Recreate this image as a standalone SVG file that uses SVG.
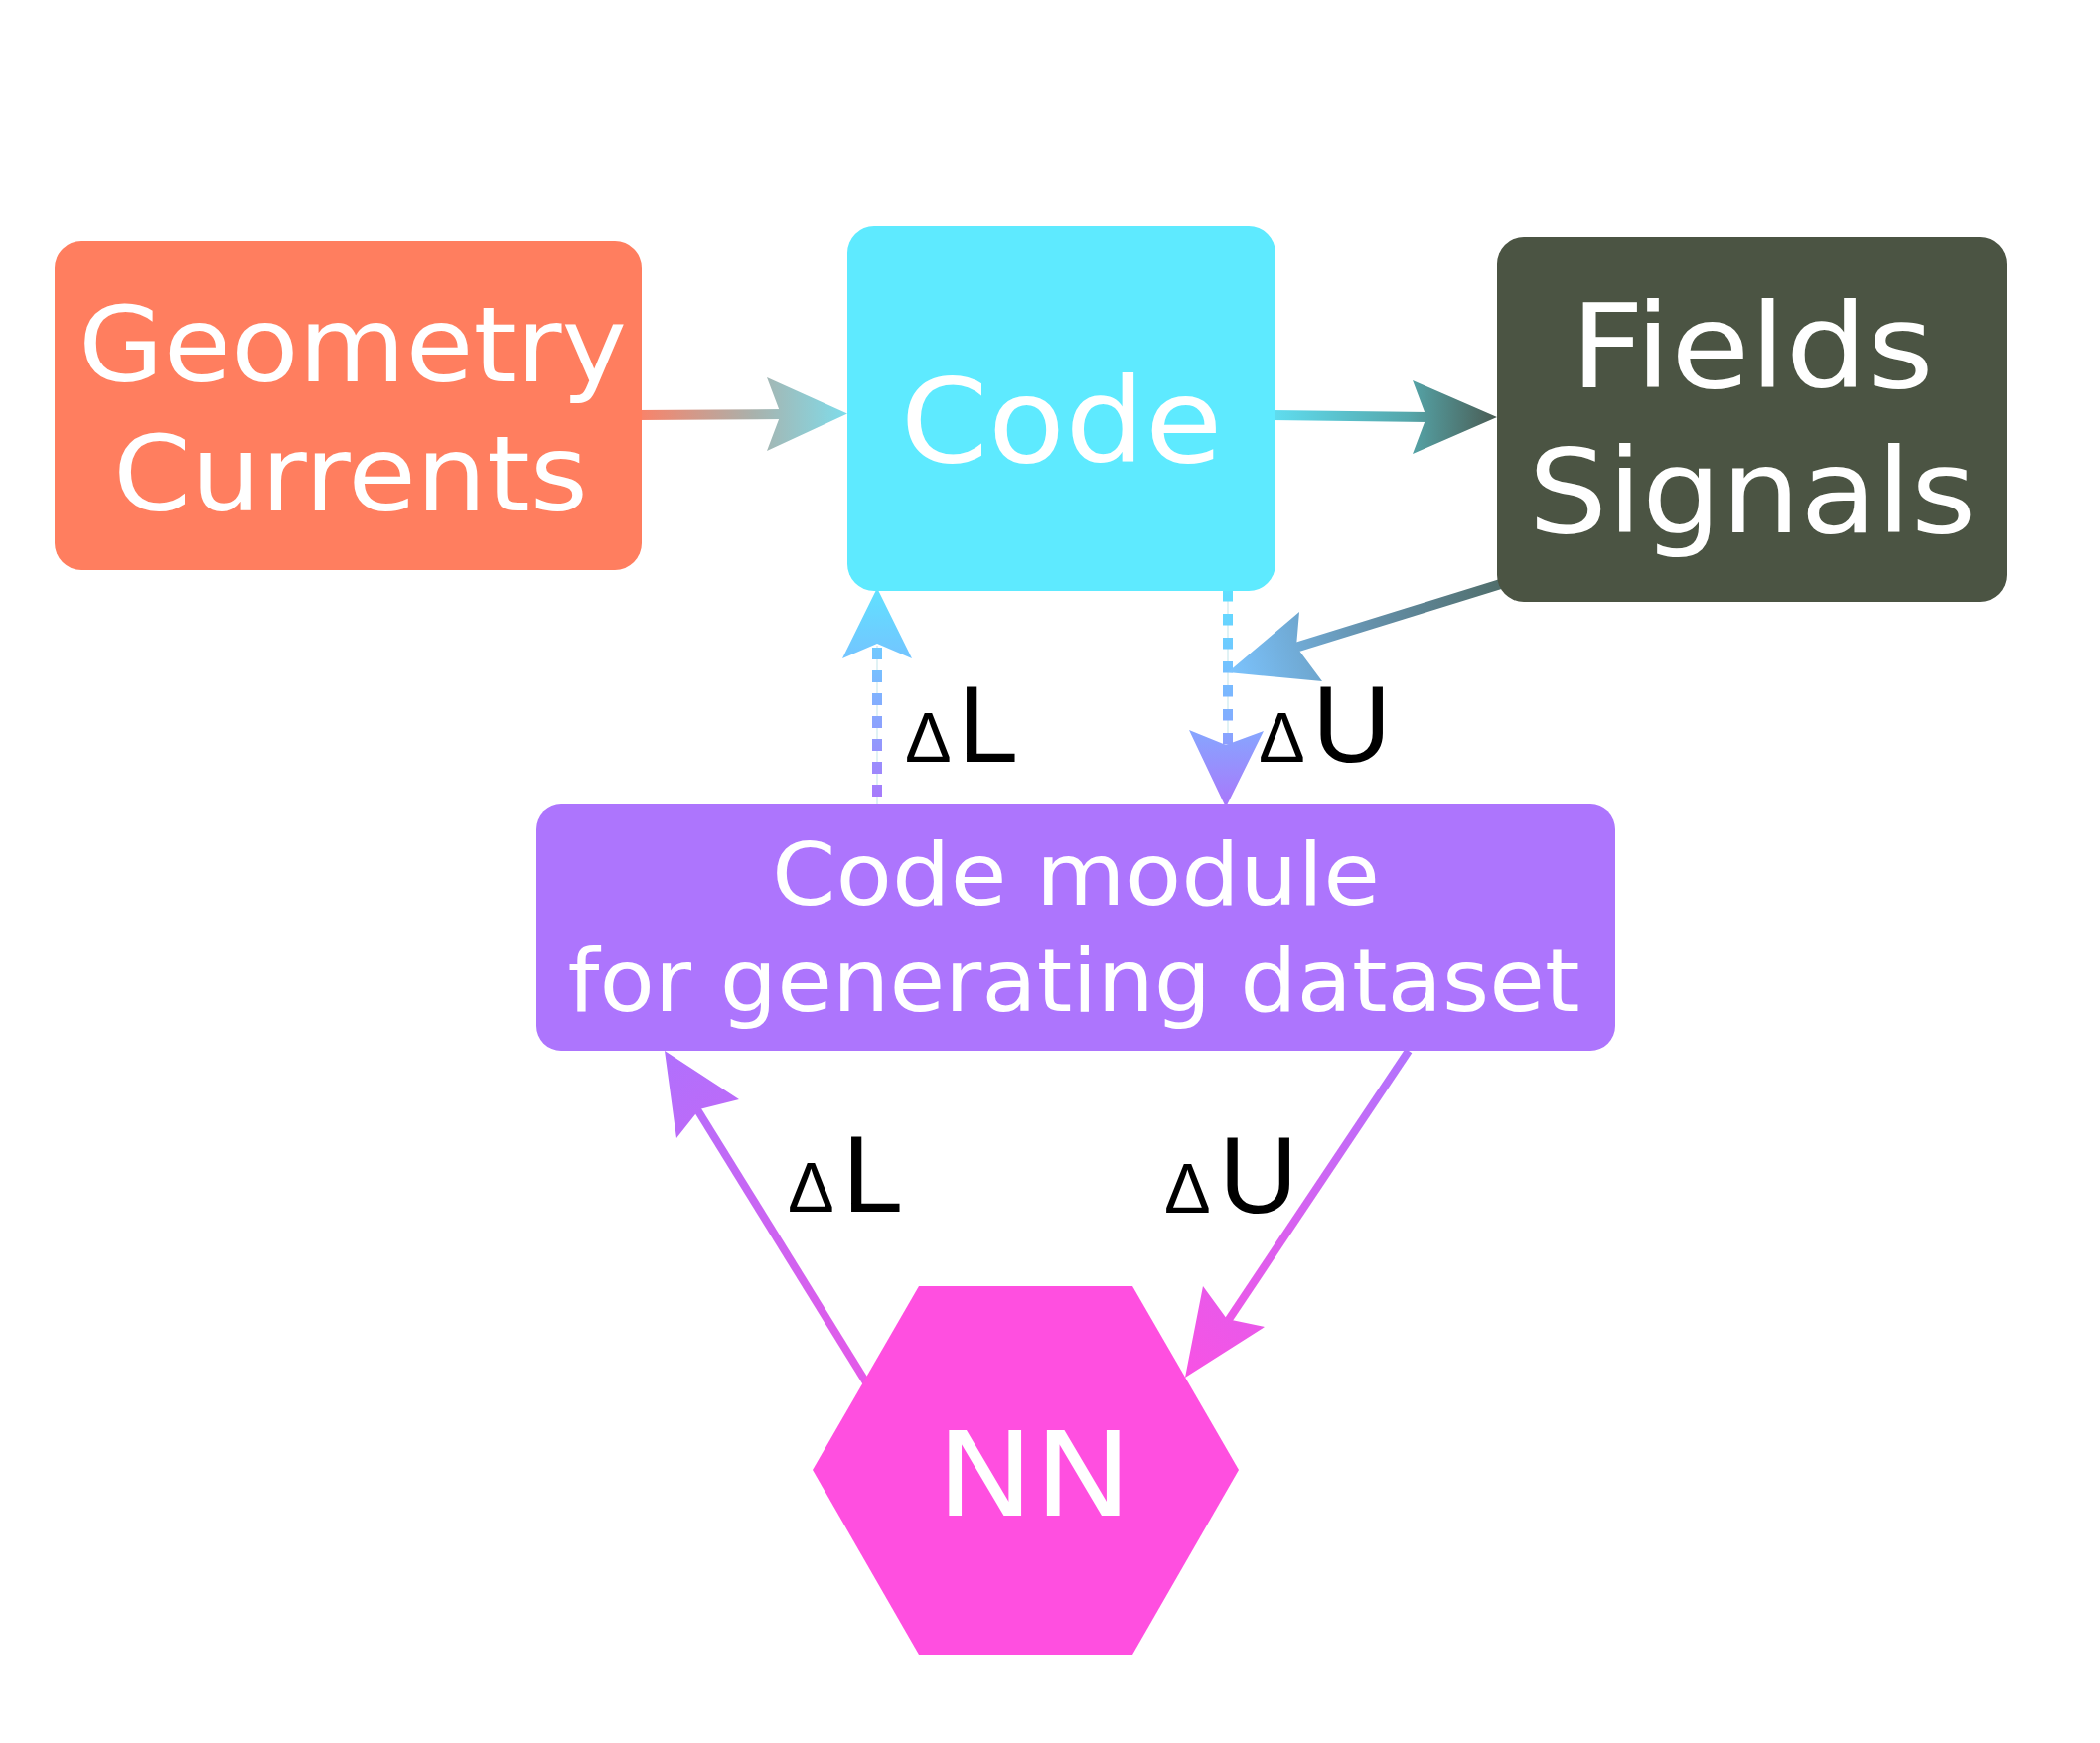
<svg xmlns="http://www.w3.org/2000/svg" width="2114" height="1755" viewBox="0 0 2114 1755">
<style>
.node-text{font-family:"DejaVu Sans",sans-serif;fill:#ffffff;text-anchor:middle}
.lbl{font-family:"Liberation Sans",Arial,sans-serif;fill:#000000}
.dash{fill:none;stroke-width:10}
.thin{fill:none;stroke:#d6eef2;stroke-width:1.5}
</style>
<defs>
<linearGradient id="g1" gradientUnits="userSpaceOnUse" x1="646" y1="417" x2="853" y2="417">
<stop offset="0" stop-color="#f8836a"/><stop offset="0.55" stop-color="#a8b2ad"/><stop offset="1" stop-color="#7fdcea"/>
</linearGradient>
<linearGradient id="g2" gradientUnits="userSpaceOnUse" x1="1284" y1="418" x2="1507" y2="420">
<stop offset="0" stop-color="#5fdcee"/><stop offset="0.6" stop-color="#55a6aa"/><stop offset="1" stop-color="#4a5c54"/>
</linearGradient>
<linearGradient id="g3" gradientUnits="userSpaceOnUse" x1="1525" y1="584" x2="1236" y2="677">
<stop offset="0" stop-color="#4e6a64"/><stop offset="0.5" stop-color="#6490aa"/><stop offset="1" stop-color="#7cc4ff"/>
</linearGradient>
<linearGradient id="g4" gradientUnits="userSpaceOnUse" x1="1236" y1="595" x2="1236" y2="813">
<stop offset="0" stop-color="#5fe0ff"/><stop offset="0.6" stop-color="#82acff"/><stop offset="1" stop-color="#aa76fb"/>
</linearGradient>
<linearGradient id="g5" gradientUnits="userSpaceOnUse" x1="883" y1="810" x2="883" y2="590">
<stop offset="0" stop-color="#aa76fb"/><stop offset="0.6" stop-color="#78beff"/><stop offset="1" stop-color="#5fe2ff"/>
</linearGradient>
<linearGradient id="g6" gradientUnits="userSpaceOnUse" x1="872" y1="1392" x2="669" y2="1058">
<stop offset="0" stop-color="#e45ae8"/><stop offset="1" stop-color="#b070fd"/>
</linearGradient>
<linearGradient id="g7" gradientUnits="userSpaceOnUse" x1="1418" y1="1058" x2="1193" y2="1387">
<stop offset="0" stop-color="#b273fd"/><stop offset="1" stop-color="#f852e4"/>
</linearGradient>
</defs>
<rect width="2114" height="1755" fill="#ffffff"/>

<g id="connectors">
  <!-- Geometry -> Code -->
  <path d="M640 418 L788 417" stroke="url(#g1)" stroke-width="10" fill="none"/>
  <polygon points="853,416.5 772,380 786,417 772,454" fill="url(#g1)"/>
  <!-- Code -> Fields -->
  <path d="M1280 418 L1438 420" stroke="url(#g2)" stroke-width="10" fill="none"/>
  <polygon points="1507,420 1422,383 1436,420 1422,457" fill="url(#g2)"/>
  <!-- Code module -> Code (dL, dashed up) -->
  <path class="thin" d="M883 810 L883 650"/>
  <path class="dash" d="M883 802 L883 650" stroke="url(#g5)" stroke-dasharray="12 11"/>
  <polygon points="883,592 918,663 883,648 848,663" fill="url(#g5)"/>
  <!-- Code -> Code module (dU, dashed down) -->
  <path class="thin" d="M1236 595 L1236 752"/>
  <path class="dash" d="M1236 594 L1236 750" stroke="url(#g4)" stroke-dasharray="11.5 12.5"/>
  <polygon points="1234,813 1197,735 1234,750 1272,736" fill="url(#g4)"/>
  <!-- Fields -> dU line -->
  <path d="M1530 582 L1304 652" stroke="url(#g3)" stroke-width="10" fill="none"/>
  <polygon points="1236,677 1308,616 1305,651 1331,686" fill="url(#g3)"/>
  <!-- NN -> Code module (dL) -->
  <path d="M872 1392 L700 1114" stroke="url(#g6)" stroke-width="8" fill="none"/>
  <polygon points="669,1058 744,1107 704,1117 681,1146" fill="url(#g6)"/>
  <!-- Code module -> NN (dU) -->
  <path d="M1418 1058 L1236 1330" stroke="url(#g7)" stroke-width="8" fill="none"/>
  <polygon points="1193,1387 1211,1295 1235,1328 1273,1336" fill="url(#g7)"/>
</g>

<g id="node-geometry">
  <rect x="55" y="243" width="591" height="331" rx="27" ry="27" fill="#ff7e5f"/>
  <text class="node-text" x="355" y="384" font-size="106" textLength="552" lengthAdjust="spacingAndGlyphs">Geometry</text>
  <text class="node-text" x="353" y="514" font-size="106" textLength="478" lengthAdjust="spacingAndGlyphs">Currents</text>
</g>

<g id="node-code">
  <rect x="853" y="228" width="431" height="367" rx="27" ry="27" fill="#5eeaff"/>
  <text class="node-text" x="1068.5" y="465" font-size="118" textLength="324" lengthAdjust="spacingAndGlyphs">Code</text>
</g>

<g id="node-fields">
  <rect x="1507" y="239" width="513" height="367" rx="27" ry="27" fill="#4b5443"/>
  <text class="node-text" x="1764" y="390" font-size="117" textLength="366" lengthAdjust="spacingAndGlyphs">Fields</text>
  <text class="node-text" x="1764" y="536" font-size="117" textLength="451" lengthAdjust="spacingAndGlyphs">Signals</text>
</g>

<g id="node-module">
  <rect x="540" y="810" width="1086" height="248" rx="25" ry="25" fill="#ad75fd"/>
  <text class="node-text" x="1083" y="911" font-size="88" textLength="612" lengthAdjust="spacingAndGlyphs">Code module</text>
  <text class="node-text" x="1081" y="1018" font-size="88" textLength="1019" lengthAdjust="spacingAndGlyphs">for generating dataset</text>
</g>

<g id="node-nn">
  <polygon points="925,1295 1140,1295 1247,1480 1140,1666 925,1666 818,1480" fill="#ff4fe0"/>
  <text class="node-text" x="1041" y="1526" font-size="117" textLength="197" lengthAdjust="spacingAndGlyphs">NN</text>
</g>

<g id="labels">
  <text class="lbl" y="767"><tspan x="911" font-size="70">Δ</tspan><tspan x="964" font-size="110">L</tspan></text>
  <text class="lbl" y="767"><tspan x="1267" font-size="70">Δ</tspan><tspan x="1321" font-size="110">U</tspan></text>
  <text class="lbl" y="1220"><tspan x="793" font-size="70">Δ</tspan><tspan x="848" font-size="110">L</tspan></text>
  <text class="lbl" y="1221"><tspan x="1172" font-size="70">Δ</tspan><tspan x="1227" font-size="110">U</tspan></text>
</g>
</svg>
